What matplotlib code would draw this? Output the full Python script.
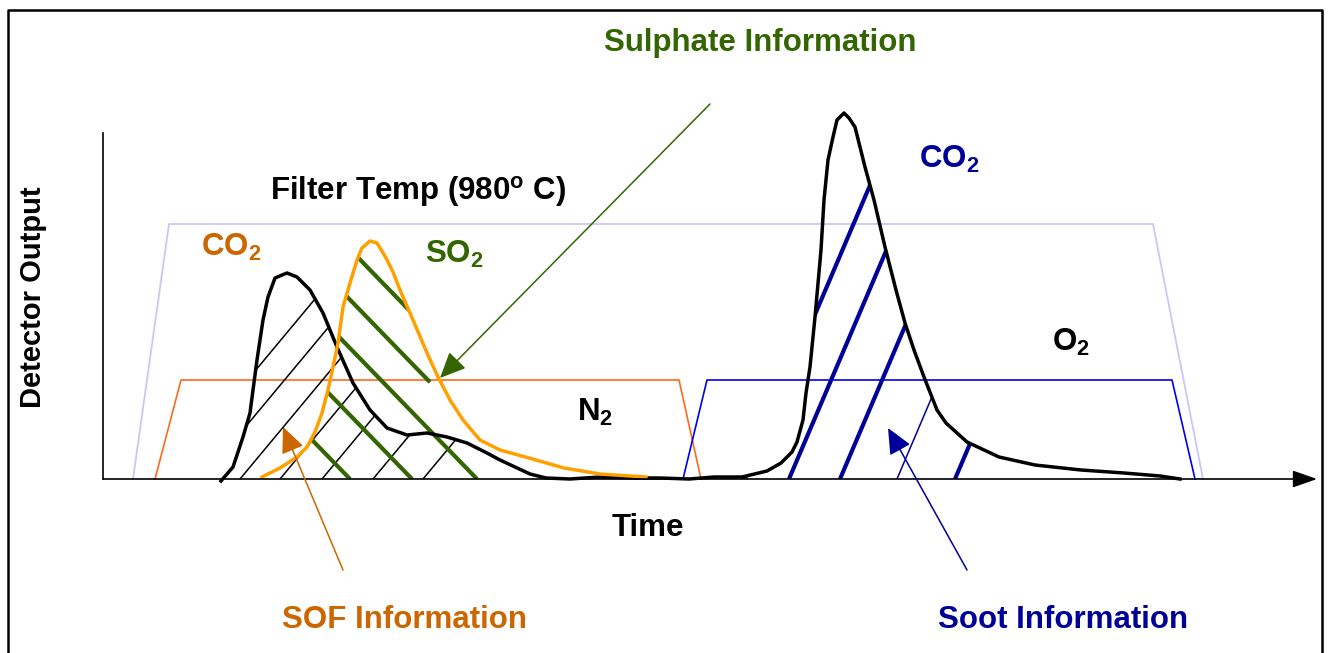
import matplotlib
matplotlib.use("Agg")
import matplotlib.pyplot as plt
from matplotlib.patches import Polygon
import numpy as np

plt.rcParams['font.family'] = ['Liberation Sans', 'DejaVu Sans']
plt.rcParams['mathtext.default'] = 'regular'

# detector trace (black): SOF CO2 peak, then soot CO2 peak
black_t = [221, 233, 243, 250, 253, 257, 260, 263, 268, 275, 287, 297, 310, 323, 337, 353, 370, 387, 407, 427,
           447, 467, 487, 500, 515, 530, 546, 570, 600, 636, 660, 689, 714, 742, 767, 781, 792, 797, 803, 806,
           810, 815, 821, 824, 828, 833, 837, 844, 849, 855, 860, 865, 874, 885, 896, 905, 914, 924, 937, 946,
           967, 999, 1035, 1081, 1124, 1160, 1180]
black_v = [-2, 12, 42, 66, 89, 119, 139, 159, 182, 201, 206, 202, 189, 166, 132, 96, 69, 51, 44, 46,
           42, 36, 26, 19, 12, 5, 1, 0, 2, 1, 1, 0, 2, 2, 8, 16, 27, 37, 59, 86,
           112, 162, 229, 279, 319, 342, 359, 366, 361, 352, 332, 312, 279, 232, 189, 156, 129, 102, 69, 56,
           37, 22, 14, 9, 6, 3, 0]

# SO2 trace (orange)
so2_t = [262, 280, 297, 307, 315, 322, 328, 333, 338, 343, 350, 357, 362, 370, 377, 386, 393, 400, 413, 427,
         438, 450, 463, 480, 500, 529, 564, 600, 646]
so2_v = [2, 11, 22, 32, 47, 66, 89, 112, 136, 172, 196, 219, 231, 238, 236, 221, 207, 189, 159, 126,
         102, 79, 59, 39, 29, 21, 11, 5, 2]

# gas / temperature programme outlines
temp_t = [133, 169, 1153, 1203]
temp_v = [0, 255, 255, 0]
n2_t = [155, 181, 679, 701]
n2_v = [0, 99, 99, 0]
o2_t = [683, 707, 1172, 1195]
o2_v = [0, 99, 99, 0]

# hatching: where each line crosses the baseline, its slope, and where it stops
sof_x0 = [165, 202, 240, 280, 322, 373, 423]
sof_slope = 1.2
sul_x0 = [350, 412, 477, 524, 573]
sul_end = [350, 412, 477, 430, 412]
sul_slope = -1.03
soot_x0 = [745, 789, 840, 897, 955]
soot_lw = [3, 3, 3, 1.1, 3]
soot_slope = 2.35

ORANGE_TXT = '#cc6600'
GREEN = '#336600'
NAVY = '#000099'

fig = plt.figure(figsize=(13.29, 6.53), dpi=100)
ax = fig.add_axes([0, 0, 1, 1])
ax.set_xlim(0, 1329)
ax.set_ylim(479 - 653, 479)
ax.axis('off')

black_t = np.array(black_t); black_v = np.array(black_v)
so2_t = np.array(so2_t); so2_v = np.array(so2_v)


def region(t, v):
    pts = np.column_stack([np.r_[t[0], t, t[-1]], np.r_[0, v, 0]])
    return Polygon(pts, closed=True, transform=ax.transData)


def hatch(x0s, slope, clip, color, lws, ends=None):
    if np.isscalar(lws):
        lws = [lws] * len(x0s)
    if ends is None:
        ends = [x0 + 400 for x0 in x0s]
    for x0, lw, xe in zip(x0s, lws, ends):
        xs = np.array([x0 - 400, xe])
        line, = ax.plot(xs, slope * (xs - x0), color=color, lw=lw, solid_capstyle='butt')
        line.set_clip_path(clip)


# outlines
ax.plot(temp_t, temp_v, color='#c8c8f8', lw=1.3)
ax.plot(n2_t, n2_v, color='#ff6a1a', lw=1.2)
ax.plot(o2_t, o2_v, color='#0000ee', lw=1.2)

first = black_t <= 600
second = black_t >= 689
hatch(sof_x0, sof_slope, region(black_t[first], black_v[first]), 'black', 1.1)
hatch(sul_x0, sul_slope, region(so2_t, so2_v), GREEN, 3, ends=sul_end)
hatch(soot_x0, soot_slope, region(black_t[second], black_v[second]), NAVY, soot_lw)

ax.plot(black_t, black_v, color='black', lw=2.5)
ax.plot(so2_t, so2_v, color='#ffa000', lw=2.5)

# axes
ax.plot([103, 103], [0, 346], color='black', lw=1.2)
ax.annotate('', xy=(1317, 0), xytext=(103, 0),
            arrowprops=dict(arrowstyle='-|>,head_length=1.0,head_width=0.35', color='black', lw=1.2,
                            mutation_scale=15, shrinkA=0, shrinkB=0))

# frame
ax.plot([8, 8, 1322, 1322], [-190, 469, 469, -190], color='black', lw=1.8)

# pointers
arrow_kw = dict(arrowstyle='-|>,head_length=1.0,head_width=0.45', mutation_scale=16, shrinkA=0, shrinkB=0)
ax.annotate('', xy=(440, 101), xytext=(710, 375), arrowprops=dict(color=GREEN, lw=1.1, **arrow_kw))
ax.annotate('', xy=(283, 52), xytext=(343, -91), arrowprops=dict(color=ORANGE_TXT, lw=1.1, **arrow_kw))
ax.annotate('', xy=(888, 51), xytext=(967, -91), arrowprops=dict(color=NAVY, lw=1.1, **arrow_kw))

fs = 22.5
tk = dict(fontsize=fs, fontweight='bold', ha='center', va='center')
ax.text(760, 436, 'Sulphate Information', color=GREEN, **tk)
ax.text(418, 287, 'Filter Temp (980$^{o}$ C)', color='black', **tk)
ax.text(231, 232, 'CO$_2$', color=ORANGE_TXT, **tk)
ax.text(454, 225, 'SO$_2$', color=GREEN, **tk)
ax.text(595, 67, 'N$_2$', color='black', **tk)
ax.text(949, 320, 'CO$_2$', color=NAVY, **tk)
ax.text(1071, 137, 'O$_2$', color='black', **tk)
ax.text(33, 182, 'Detector Output', color='black', rotation=90, fontsize=21, fontweight='bold',
        ha='center', va='center')
ax.text(648, -49, 'Time', color='black', **tk)
ax.text(405, -141, 'SOF Information', color=ORANGE_TXT, **tk)
ax.text(1063, -141, 'Soot Information', color=NAVY, **tk)

fig.savefig('out.png', dpi=100)
